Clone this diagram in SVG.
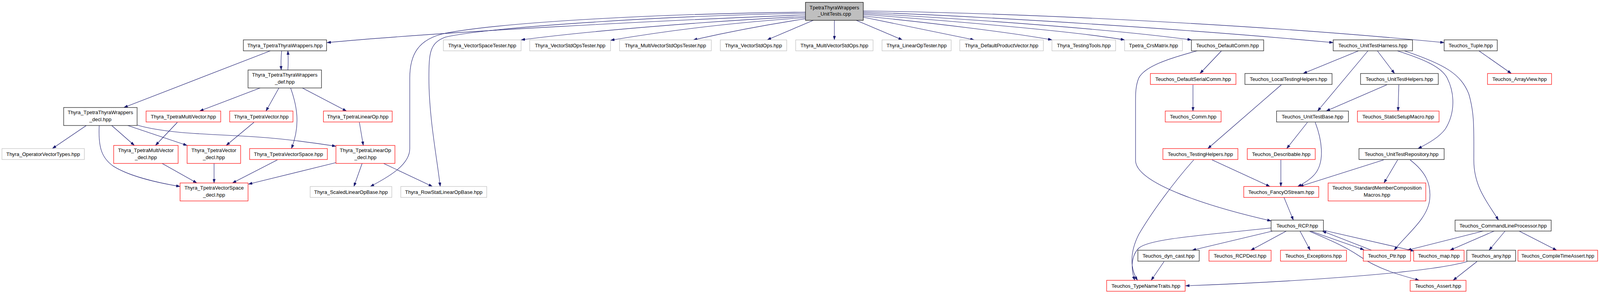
<svg xmlns="http://www.w3.org/2000/svg" width="4191" height="752" viewBox="0 0 4191 752">
<style>
text{font-family:"Liberation Sans",Arial,sans-serif;font-size:13px;text-anchor:middle;fill:#000}
.b rect{fill:#fff;stroke:#222;stroke-width:1.3}
.r rect{fill:#fff;stroke:#ff0000;stroke-width:1.2}
.g rect{fill:#fff;stroke:#bfbfbf;stroke-width:1.2}
.t rect{fill:#bfbfbf;stroke:#000;stroke-width:1.2}
#edges path{fill:none;stroke:#191970;stroke-width:1.1;marker-end:url(#a)}
</style>
<defs>
<marker id="a" viewBox="0 0 10 7" refX="10" refY="3.5" markerWidth="10" markerHeight="7" orient="auto" markerUnits="userSpaceOnUse"><path d="M0,0L10,3.5L0,7z" fill="#191970" stroke="#191970" stroke-width="0.5"/></marker>
</defs>
<rect width="4191" height="752" fill="#fff"/>
<g id="edges">
<path d="M2062,38 C1700,52 1150,80 837,109"/>
<path d="M2062,31 C1700,35 1300,55 1140,85 C1070,100 1049,140 1049,200 L1049,380 C1049,420 1000,450 948,477"/>
<path d="M2062,34 C1700,40 1250,70 1140,95 C1100,110 1098,135 1098,200 C1098,300 1118,400 1127,477"/>
<path d="M2062,42 C1800,55 1500,80 1334,102"/>
<path d="M2062,45 C1850,60 1700,80 1563,103"/>
<path d="M2062,48 C1950,65 1850,85 1775,102"/>
<path d="M2082,52 L1964,102"/>
<path d="M2136,52 L2136,102"/>
<path d="M2192,52 L2310,102"/>
<path d="M2210,44 L2494,102"/>
<path d="M2210,41 C2400,60 2600,85 2693,102"/>
<path d="M2210,37 C2450,55 2750,80 2879,102"/>
<path d="M2210,34 C2500,50 2850,75 3050,102"/>
<path d="M2210,31 C2600,45 3100,80 3413,109"/>
<path d="M2210,28 C2700,35 3300,70 3697,109"/>
<path d="M721,130 C719,150 719,165 720,179"/>
<path d="M737,179 C738,165 738,150 737,130"/>
<path d="M692,130 L317,275"/>
<path d="M666,225 L511,284"/>
<path d="M714,225 L681,284"/>
<path d="M744,225 C760,270 770,320 746,380"/>
<path d="M774,225 L887,284"/>
<path d="M221,321 L134,380"/>
<path d="M254,321 C251,380 262,405 290,425 C330,450 400,467 461,477"/>
<path d="M286,321 L344,372"/>
<path d="M327,321 L479,372"/>
<path d="M351,320 C420,340 520,343 620,348 C720,353 800,365 860,374"/>
<path d="M454,313 L398,372"/>
<path d="M650,313 L579,372"/>
<path d="M920,313 L930,372"/>
<path d="M415,418 L504,468"/>
<path d="M548,418 L548,468"/>
<path d="M710,409 L595,468"/>
<path d="M860,416 L636,471"/>
<path d="M927,418 L906,477"/>
<path d="M982,418 L1107,477"/>
<path d="M3127,130 L3072,188"/>
<path d="M3065,130 C2990,150 2930,170 2915,200 C2907,220 2907,240 2907,260 L2907,410 C2907,470 3100,530 3254,565"/>
<path d="M3054,217 L3054,284"/>
<path d="M3478,130 L3336,188"/>
<path d="M3502,130 L3373,284"/>
<path d="M3526,130 L3570,188"/>
<path d="M3577,130 C3640,150 3690,170 3705,200 C3725,240 3725,290 3700,330 C3685,350 3660,365 3630,380"/>
<path d="M3595,130 C3700,165 3740,190 3760,240 C3775,290 3773,330 3773,410 C3773,480 3810,520 3836,563"/>
<path d="M3786,130 L3869,188"/>
<path d="M3280,217 L3092,380"/>
<path d="M3550,217 L3395,284"/>
<path d="M3581,217 L3579,284"/>
<path d="M3347,313 L3294,380"/>
<path d="M3367,313 C3385,360 3390,410 3370,440 C3360,455 3340,468 3322,477"/>
<path d="M3103,409 L3251,477"/>
<path d="M3056,409 C3010,460 2950,540 2915,600 C2890,650 2895,690 2912,717"/>
<path d="M3279,409 L3279,477"/>
<path d="M3542,409 L3327,477"/>
<path d="M3578,409 L3543,468"/>
<path d="M3610,409 C3650,440 3664,470 3660,510 C3655,560 3600,600 3569,640"/>
<path d="M3287,505 L3311,563"/>
<path d="M3258,591 L3052,640"/>
<path d="M3293,591 L3202,640"/>
<path d="M3328,591 L3354,640"/>
<path d="M3355,591 L3492,639"/>
<path d="M3511,640 L3385,591"/>
<path d="M3388,589 L3620,642"/>
<path d="M3353,592 C3420,620 3450,635 3480,655 C3530,690 3590,705 3633,717"/>
<path d="M3254,583 C3100,600 2940,610 2915,635 C2895,655 2895,690 2905,717"/>
<path d="M2980,669 L2947,717"/>
<path d="M3797,591 L3603,640"/>
<path d="M3825,591 L3712,640"/>
<path d="M3853,591 L3812,640"/>
<path d="M3889,591 L3985,640"/>
<path d="M3756,669 C3650,700 3280,722 3035,731"/>
<path d="M3781,669 L3720,717"/>
</g>
<g id="n0" class="t"><rect x="2062" y="6" width="148" height="46"/><text x="2136" y="24">TpetraThyraWrappers</text><text x="2136" y="40">_UnitTests.cpp</text></g>
<g id="wrap" class="b"><rect x="623" y="102" width="213" height="28"/><text x="729.5" y="121">Thyra_TpetraThyraWrappers.hpp</text></g>
<g id="vst" class="g"><rect x="1135" y="102" width="199" height="28"/><text x="1234.5" y="121">Thyra_VectorSpaceTester.hpp</text></g>
<g id="vsot" class="g"><rect x="1356" y="102" width="207" height="28"/><text x="1459.5" y="121">Thyra_VectorStdOpsTester.hpp</text></g>
<g id="mvsot" class="g"><rect x="1586" y="102" width="235" height="28"/><text x="1703.5" y="121">Thyra_MultiVectorStdOpsTester.hpp</text></g>
<g id="vso" class="g"><rect x="1844" y="102" width="170" height="28"/><text x="1929" y="121">Thyra_VectorStdOps.hpp</text></g>
<g id="mvso" class="g"><rect x="2037" y="102" width="198" height="28"/><text x="2136" y="121">Thyra_MultiVectorStdOps.hpp</text></g>
<g id="lot" class="g"><rect x="2258" y="102" width="177" height="28"/><text x="2346.5" y="121">Thyra_LinearOpTester.hpp</text></g>
<g id="dpv" class="g"><rect x="2457" y="102" width="214" height="28"/><text x="2564" y="121">Thyra_DefaultProductVector.hpp</text></g>
<g id="tt" class="g"><rect x="2693" y="102" width="163" height="28"/><text x="2774.5" y="121">Thyra_TestingTools.hpp</text></g>
<g id="crs" class="g"><rect x="2879" y="102" width="148" height="28"/><text x="2953" y="121">Tpetra_CrsMatrix.hpp</text></g>
<g id="dc" class="b"><rect x="3050" y="102" width="185" height="28"/><text x="3142.5" y="121">Teuchos_DefaultComm.hpp</text></g>
<g id="uth" class="b"><rect x="3413" y="102" width="203" height="28"/><text x="3514.5" y="121">Teuchos_UnitTestHarness.hpp</text></g>
<g id="tup" class="b"><rect x="3697" y="102" width="136" height="28"/><text x="3765" y="121">Teuchos_Tuple.hpp</text></g>
<g id="def" class="b"><rect x="635" y="179" width="188" height="46"/><text x="729" y="196">Thyra_TpetraThyraWrappers</text><text x="729" y="214">_def.hpp</text></g>
<g id="dsc" class="r"><rect x="2945" y="188" width="219" height="28"/><text x="3054.5" y="207">Teuchos_DefaultSerialComm.hpp</text></g>
<g id="lth" class="b"><rect x="3187" y="188" width="223" height="28"/><text x="3298.5" y="207">Teuchos_LocalTestingHelpers.hpp</text></g>
<g id="uthp" class="b"><rect x="3483" y="188" width="199" height="28"/><text x="3582.5" y="207">Teuchos_UnitTestHelpers.hpp</text></g>
<g id="av" class="r"><rect x="3808" y="188" width="164" height="28"/><text x="3890" y="207">Teuchos_ArrayView.hpp</text></g>
<g id="decl" class="b"><rect x="163" y="275" width="188" height="46"/><text x="257" y="292">Thyra_TpetraThyraWrappers</text><text x="257" y="310">_decl.hpp</text></g>
<g id="mv" class="r"><rect x="374" y="284" width="191" height="28"/><text x="469.5" y="303">Thyra_TpetraMultiVector.hpp</text></g>
<g id="tv" class="r"><rect x="588" y="284" width="162" height="28"/><text x="669" y="303">Thyra_TpetraVector.hpp</text></g>
<g id="lo" class="r"><rect x="828" y="284" width="176" height="28"/><text x="916" y="303">Thyra_TpetraLinearOp.hpp</text></g>
<g id="comm" class="r"><rect x="2983" y="284" width="143" height="28"/><text x="3054.5" y="303">Teuchos_Comm.hpp</text></g>
<g id="utb" class="b"><rect x="3268" y="284" width="184" height="28"/><text x="3360" y="303">Teuchos_UnitTestBase.hpp</text></g>
<g id="ssm" class="r"><rect x="3475" y="284" width="209" height="28"/><text x="3579.5" y="303">Teuchos_StaticSetupMacro.hpp</text></g>
<g id="ovt" class="g"><rect x="5" y="380" width="211" height="28"/><text x="110.5" y="399">Thyra_OperatorVectorTypes.hpp</text></g>
<g id="mvd" class="r"><rect x="291" y="372" width="165" height="46"/><text x="373.5" y="389">Thyra_TpetraMultiVector</text><text x="373.5" y="407">_decl.hpp</text></g>
<g id="tvd" class="r"><rect x="479" y="372" width="137" height="46"/><text x="547.5" y="389">Thyra_TpetraVector</text><text x="547.5" y="407">_decl.hpp</text></g>
<g id="vs" class="r"><rect x="639" y="380" width="199" height="28"/><text x="738.5" y="399">Thyra_TpetraVectorSpace.hpp</text></g>
<g id="lod" class="r"><rect x="860" y="372" width="151" height="46"/><text x="935.5" y="389">Thyra_TpetraLinearOp</text><text x="935.5" y="407">_decl.hpp</text></g>
<g id="th" class="r"><rect x="2977" y="380" width="192" height="28"/><text x="3073" y="399">Teuchos_TestingHelpers.hpp</text></g>
<g id="desc" class="r"><rect x="3193" y="380" width="174" height="28"/><text x="3280" y="399">Teuchos_Describable.hpp</text></g>
<g id="utr" class="b"><rect x="3479" y="380" width="218" height="28"/><text x="3588" y="399">Teuchos_UnitTestRepository.hpp</text></g>
<g id="vsd" class="r"><rect x="461" y="468" width="174" height="46"/><text x="548" y="485">Thyra_TpetraVectorSpace</text><text x="548" y="503">_decl.hpp</text></g>
<g id="slob" class="g"><rect x="794" y="477" width="209" height="28"/><text x="898.5" y="496">Thyra_ScaledLinearOpBase.hpp</text></g>
<g id="rslob" class="g"><rect x="1026" y="477" width="220" height="28"/><text x="1136" y="496">Thyra_RowStatLinearOpBase.hpp</text></g>
<g id="fos" class="r"><rect x="3184" y="477" width="192" height="28"/><text x="3280" y="496">Teuchos_FancyOStream.hpp</text></g>
<g id="smc" class="r"><rect x="3400" y="468" width="250" height="46"/><text x="3525" y="485">Teuchos_StandardMemberComposition</text><text x="3525" y="503">Macros.hpp</text></g>
<g id="rcp" class="b"><rect x="3254" y="563" width="134" height="28"/><text x="3321" y="582">Teuchos_RCP.hpp</text></g>
<g id="clp" class="b"><rect x="3725" y="563" width="246" height="28"/><text x="3848" y="582">Teuchos_CommandLineProcessor.hpp</text></g>
<g id="dyn" class="b"><rect x="2913" y="640" width="157" height="28"/><text x="2991.5" y="659">Teuchos_dyn_cast.hpp</text></g>
<g id="rcpd" class="r"><rect x="3095" y="640" width="159" height="28"/><text x="3174.5" y="659">Teuchos_RCPDecl.hpp</text></g>
<g id="exc" class="r"><rect x="3278" y="640" width="169" height="28"/><text x="3362.5" y="659">Teuchos_Exceptions.hpp</text></g>
<g id="ptr" class="r"><rect x="3490" y="640" width="121" height="28"/><text x="3550.5" y="659">Teuchos_Ptr.hpp</text></g>
<g id="map" class="r"><rect x="3619" y="640" width="129" height="28"/><text x="3683.5" y="659">Teuchos_map.hpp</text></g>
<g id="any" class="b"><rect x="3755" y="640" width="125" height="28"/><text x="3817.5" y="659">Teuchos_any.hpp</text></g>
<g id="cta" class="r"><rect x="3886" y="640" width="204" height="28"/><text x="3988" y="659" style="font-size:12.5px">Teuchos_CompileTimeAssert.hpp</text></g>
<g id="tnt" class="r"><rect x="2833" y="717" width="201" height="28"/><text x="2933.5" y="736">Teuchos_TypeNameTraits.hpp</text></g>
<g id="asr" class="r"><rect x="3610" y="717" width="143" height="28"/><text x="3681.5" y="736">Teuchos_Assert.hpp</text></g>
</svg>
